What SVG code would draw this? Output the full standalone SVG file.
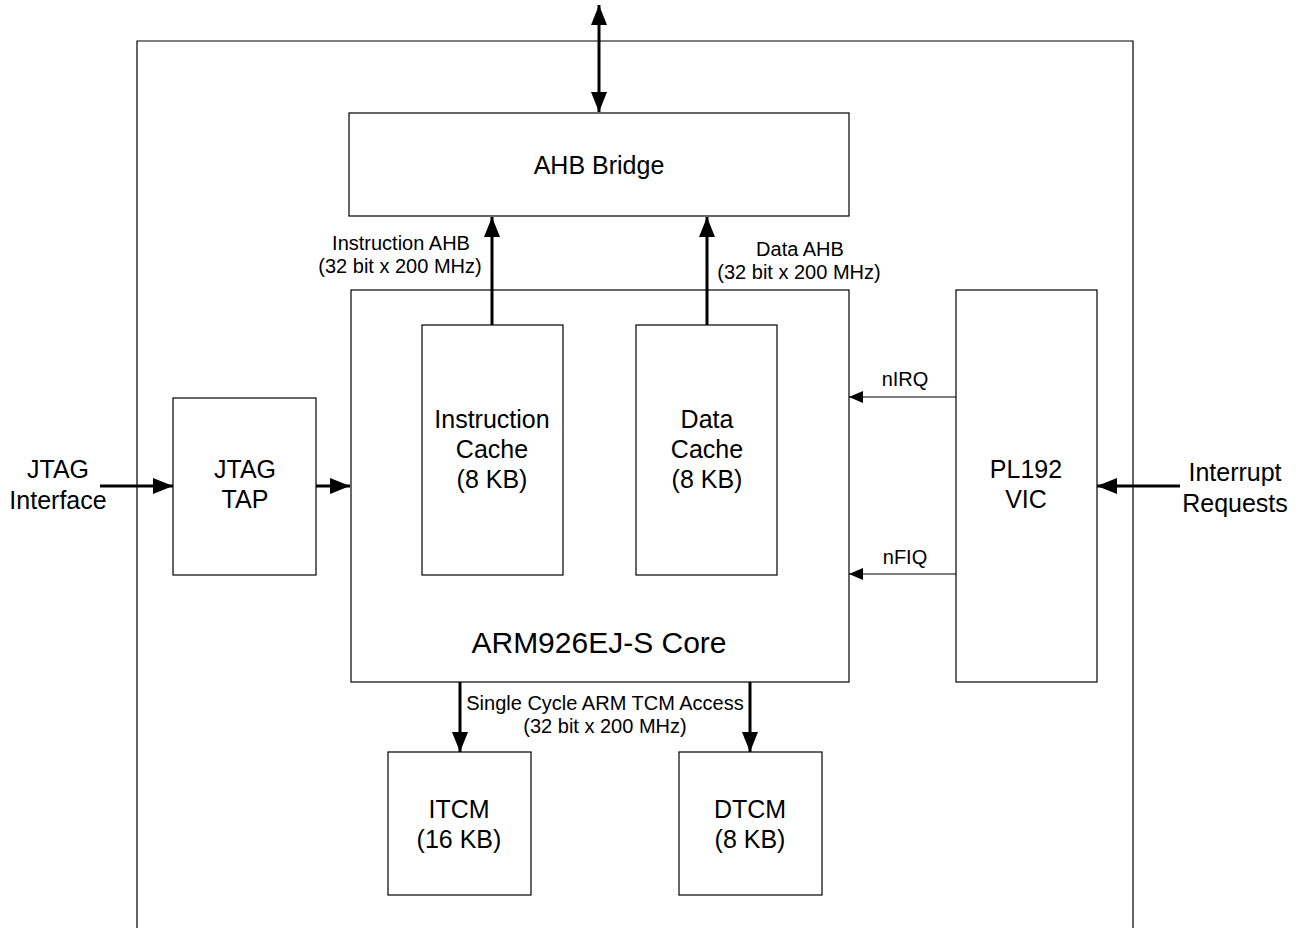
<svg xmlns="http://www.w3.org/2000/svg" width="1298" height="928" viewBox="0 0 1298 928">
<style>
.box{fill:#fff;stroke:#000;stroke-width:1.2}
.frame{fill:none;stroke:#000;stroke-width:1.2}
.t{font-family:"Liberation Sans",Arial,sans-serif;fill:#000;text-anchor:middle}
.l{font-size:25px}
.s{font-size:20px}
.thick{stroke:#000;stroke-width:3;fill:none}
.thin{stroke:#000;stroke-width:1.2;fill:none}
</style>
<defs>
<marker id="ah" viewBox="0 0 20 16" refX="20" refY="8" markerWidth="20" markerHeight="16" markerUnits="userSpaceOnUse" orient="auto-start-reverse"><path d="M0,0 L20,8 L0,16 Z" fill="#000"/></marker>
<marker id="as" viewBox="0 0 14 12" refX="14" refY="6" markerWidth="14" markerHeight="12" markerUnits="userSpaceOnUse" orient="auto"><path d="M0,0 L14,6 L0,12 Z" fill="#000"/></marker>
</defs>
<rect width="1298" height="928" fill="#fff"/>
<path class="frame" d="M137,928 V41 H1133 V928"/>
<g id="ahb"><rect class="box" x="349" y="113" width="500" height="103"/><text class="t l" x="599" y="174">AHB Bridge</text></g>
<g id="core"><rect class="box" x="351" y="290" width="498" height="392"/><text class="t" style="font-size:30px" x="599" y="653">ARM926EJ-S Core</text></g>
<g id="icache"><rect class="box" x="422" y="325" width="141" height="250"/><text class="t l" x="492" y="428">Instruction</text><text class="t l" x="492" y="458">Cache</text><text class="t l" x="492" y="488">(8 KB)</text></g>
<g id="dcache"><rect class="box" x="636" y="325" width="141" height="250"/><text class="t l" x="707" y="428">Data</text><text class="t l" x="707" y="458">Cache</text><text class="t l" x="707" y="488">(8 KB)</text></g>
<g id="jtag"><rect class="box" x="173" y="398" width="143" height="177"/><text class="t l" x="245" y="478">JTAG</text><text class="t l" x="245" y="508">TAP</text></g>
<g id="vic"><rect class="box" x="956" y="290" width="141" height="392"/><text class="t l" x="1026" y="478">PL192</text><text class="t l" x="1026" y="508">VIC</text></g>
<g id="itcm"><rect class="box" x="388" y="752" width="143" height="143"/><text class="t l" x="459" y="818">ITCM</text><text class="t l" x="459" y="848">(16 KB)</text></g>
<g id="dtcm"><rect class="box" x="679" y="752" width="143" height="143"/><text class="t l" x="750" y="818">DTCM</text><text class="t l" x="750" y="848">(8 KB)</text></g>
<g id="labels">
<text class="t l" x="58" y="478">JTAG</text><text class="t l" x="58" y="509">Interface</text>
<text class="t l" x="1235" y="481">Interrupt</text><text class="t l" x="1235" y="512">Requests</text>
<text class="t s" x="401" y="250">Instruction AHB</text><text class="t s" x="400" y="273">(32 bit x 200 MHz)</text>
<text class="t s" x="800" y="256">Data AHB</text><text class="t s" x="799" y="279">(32 bit x 200 MHz)</text>
<text class="t s" x="905" y="386">nIRQ</text><text class="t s" x="905" y="564">nFIQ</text>
<text class="t s" x="605" y="710">Single Cycle ARM TCM Access</text><text class="t s" x="605" y="733">(32 bit x 200 MHz)</text>
</g>
<g id="connectors">
<line class="thick" x1="599" y1="5" x2="599" y2="112" marker-start="url(#ah)" marker-end="url(#ah)"/>
<line class="thick" x1="492" y1="325" x2="492" y2="217" marker-end="url(#ah)"/>
<line class="thick" x1="707" y1="325" x2="707" y2="217" marker-end="url(#ah)"/>
<line class="thick" x1="100" y1="486" x2="173" y2="486" marker-end="url(#ah)"/>
<line class="thick" x1="316" y1="486" x2="350" y2="486" marker-end="url(#ah)"/>
<line class="thick" x1="1180" y1="486" x2="1097" y2="486" marker-end="url(#ah)"/>
<line class="thick" x1="460" y1="682" x2="460" y2="752" marker-end="url(#ah)"/>
<line class="thick" x1="750" y1="682" x2="750" y2="752" marker-end="url(#ah)"/>
<line class="thin" x1="956" y1="397" x2="849" y2="397" marker-end="url(#as)"/>
<line class="thin" x1="956" y1="574" x2="849" y2="574" marker-end="url(#as)"/>
</g>
</svg>
